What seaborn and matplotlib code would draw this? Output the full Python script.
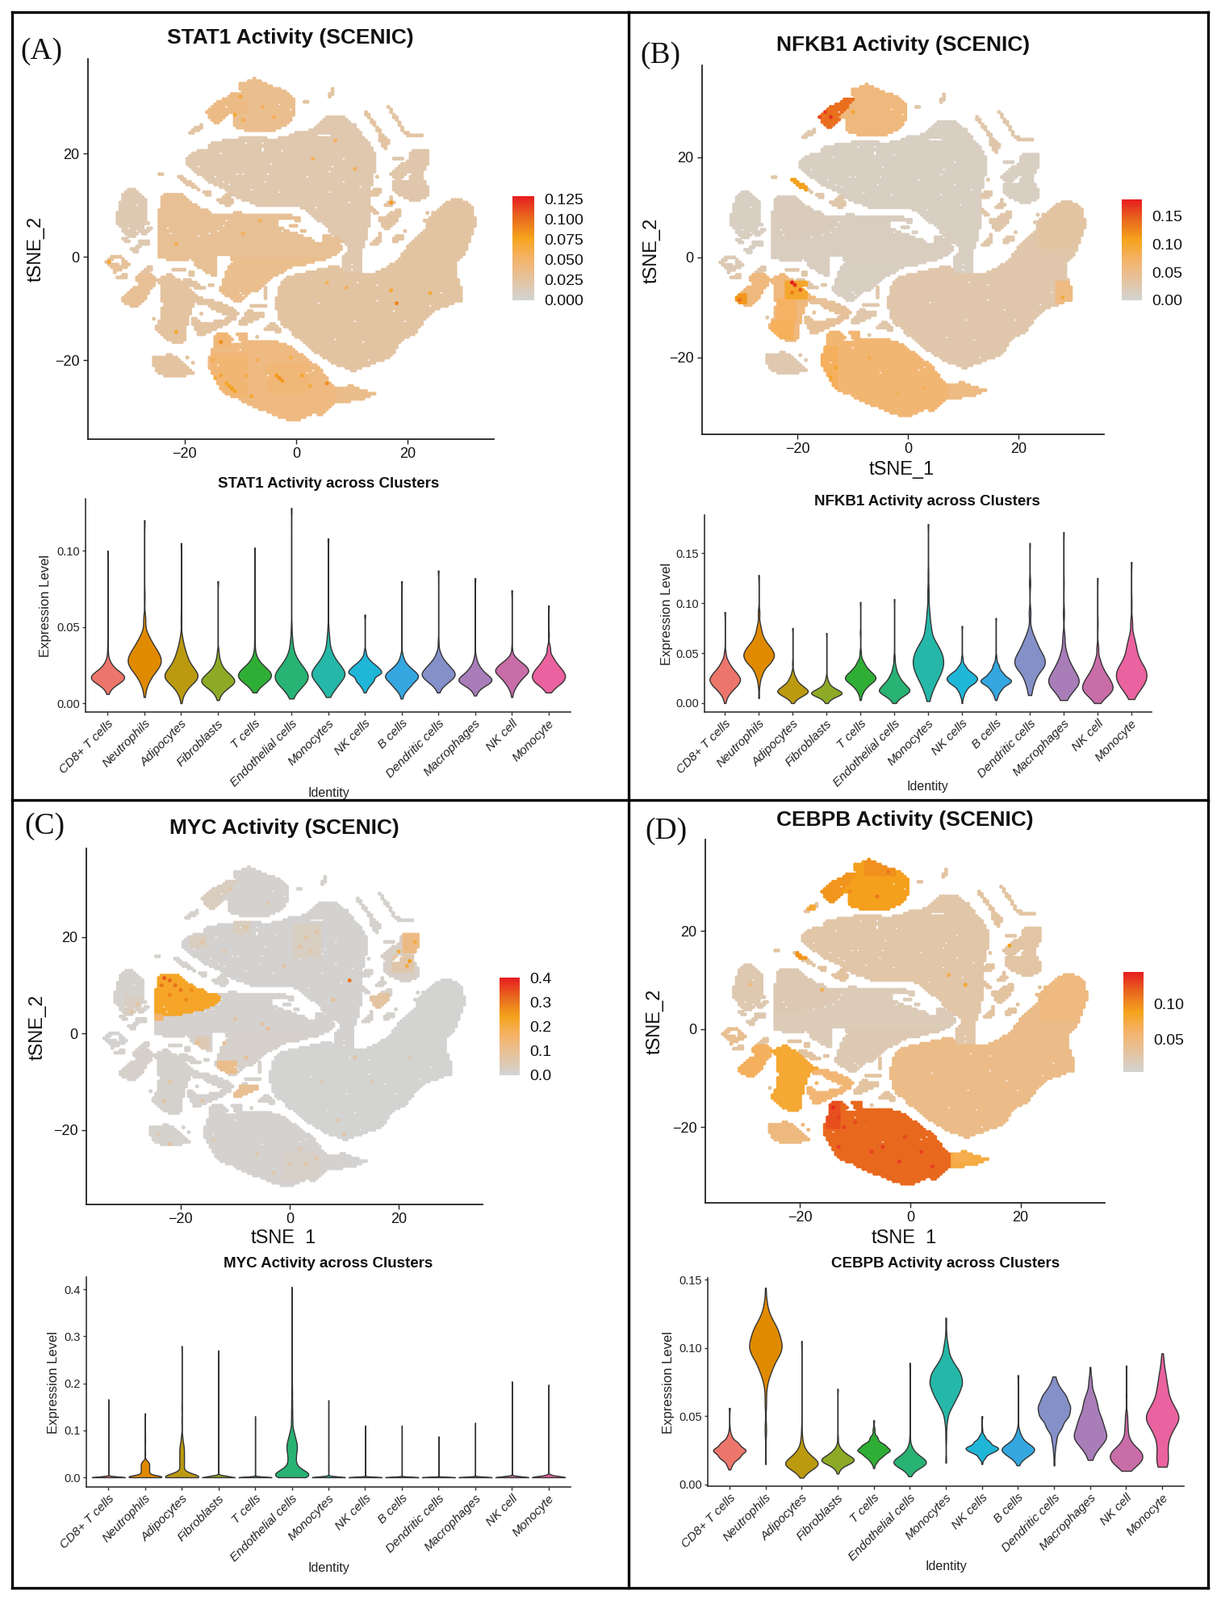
import matplotlib
matplotlib.use("Agg")
import matplotlib.pyplot as plt
import numpy as np
import pandas as pd
import seaborn as sns
from matplotlib.cm import ScalarMappable
from matplotlib.colors import LinearSegmentedColormap, Normalize
from matplotlib.patches import Rectangle

FIG_W, FIG_H = 1513, 1982

IDENTITIES = ["CD8+ T cells", "Neutrophils", "Adipocytes", "Fibroblasts", "T cells",
              "Endothelial cells", "Monocytes", "NK cells", "B cells", "Dendritic cells",
              "Macrophages", "NK cell", "Monocyte"]
VIOLIN_COLORS = ["#ED766C", "#E08A00", "#BB9A10", "#8CAA25", "#2FAE36", "#28B273", "#25B7A7",
                 "#1FB6D8", "#34A7E0", "#8490C8", "#A87DB8", "#C86DA8", "#EA629F"]

# t-SNE map in half units: row (tSNE_2) -> spans of tSNE_1 per island
TSNE_ROWS = {
    34.5: "P -7.5 -7.5",
    34: "P -8.5 -6.5",
    33.5: "P -10 -5.5",
    33: "P -10 -4.5",
    32.5: "P -10 -3; X 6.5 6.5",
    32: "P -9.5 -2; X 6.5 6.5",
    31.5: "p -11.5 -10; P -9.5 -1.5; X 6 6.5",
    31: "p -12 -10.5; P -10 -1; X 6 6",
    30.5: "p -13 -11; P -10.5 -0.5",
    30: "p -14 -11; P -10.5 -0.5; X 1.5 2",
    29.5: "p -14.5 -11.5; P -11 -0.5",
    29: "p -15 -12; P -11.5 -0.5; X 16.5 16.5",
    28.5: "p -15.5 -12.5; P -12 -0.5; X 17 17",
    28: "p -16 -13; P -12.5 -0.5; X 12.5 12.5; X 17 17",
    27.5: "p -15.5 -12.5; P -11 -0.5; X 12.5 13; X 17.5 17.5",
    27: "p -15.5 -13; P -11 -1; U 5.5 8.5; X 13 13; X 17.5 18",
    26.5: "p -15 -13.5; P -11 -1; U 5 9; X 13.5 13.5; X 18 18",
    26: "p -14.5 -14; P -11 -1.5; U 4.5 9.5; X 13.5 14; X 18.5 18.5",
    25.5: "P -11 -2; U 4 10.5; X 14 14; X 18.5 18.5; X -17 -17",
    25: "P -10.5 -3; U 3.5 10.5; X 14.5 14.5; X 19 19; X -18 -17",
    24.5: "P -9 -4; U 2.5 11; X 14.5 15; X 19 19; X -18.5 -17.5",
    24: "U 0 11.5; X 15 15; X 19.5 20; X -19 -18.5",
    23.5: "U -1 3.5; U 6.5 11.5; X 15 15.5; X 20 22.5",
    23: "U -10 -5.5; U -3 12; X 15 16",
    22.5: "U -13 12.5; X 15 16.5",
    22: "U -15 13; X 15.5 16.5",
    21.5: "U -15.5 13; X 15.5 16",
    21: "U -15.5 13.5; X 16 16",
    20.5: "U -17.5 13.5; T 21 23.5",
    20: "U -18.5 14; T 20.5 23.5",
    19.5: "U -19 14; T 20.5 23.5",
    19: "U -19.5 14; T 17.5 19; T 20.5 23.5",
    18.5: "U -19.5 14; T 20 23.5",
    18: "U -19.5 14; T 19 23.5",
    17.5: "U -19 14; T 18.5 23",
    17: "U -18.5 14; T 18 23",
    16.5: "U -18 14; T 17.5 20.5; T 21 22.5",
    16: "U -17.5 13.5; T 17 20; T 21 22.5; X -24.5 -24",
    15.5: "U -16.5 13.5; T 17.5 19; T 20.5 22.5; X -21 -20.5; X 14.5 14.5",
    15: "U -16 13.5; T 18 18.5; T 20.5 22.5; X -20.5 -20",
    14.5: "U -15.5 13.5; T 17.5 23; X -20 -19",
    14: "U -14.5 13.5; T 17.5 23; X -19.5 -18.5",
    13.5: "U -13.5 13; T 17.5 23.5; X -18.5 -18",
    13: "U -12.5 13; L -30 -29; T 17.5 23.5; X -17.5 -17.5; X 14 15",
    12.5: "U -12 13; L -30.5 -28.5; T 18 23.5; X -16.5 -15.5; X 13.5 15",
    12: "U -11.5 13; L -31 -28; m -23.5 -20.5; T 18.5 23.5; X -16 -15.5; X -12.5 -12; X 13.5 14.5",
    11.5: "U -10.5 13; L -31 -27.5; m -24 -20; T 19.5 23; X -13 -12; X 17 17",
    11: "U -9.5 13; L -31 -27; m -24 -19.5; T 20.5 22; X -14 -11.5; X 17 17; R 28 29.5",
    10.5: "U -8 13; L -31.5 -27; m -24 -19; X -13.5 -11.5; X 16.5 17.5; R 27 30.5",
    10: "U -7 13; L -31.5 -27; m -24 -18; X -12.5 -12; X 16 17; R 26.5 31",
    9.5: "U 1 13; L -31.5 -27; m -24 -17.5; X 13.5 13.5; R 26 31.5",
    9: "U 2 13; L -31.5 -27; m -24.5 -16; X 13.5 14; X 18 18.5; R 25.5 31.5",
    8.5: "U 2.5 13; L -32 -27; m -24.5 -15.5; M -11 -10; X 14 14.5; X 17 18.5; R 24.5 31.5; X 23.5 23.5",
    8: "U 3 13; L -32 -27; m -24.5 -13.5; M -13 -1; X 16.5 18.5; R 24.5 31.5",
    7.5: "U 3.5 13; L -32 -27; m -24.5 -13; M -12.5 0.5; X 15 18; R 24 32",
    7: "U 4 13; L -32 -27; m -24.5 -12.5; M -12 -3.5; M 0 0.5; X 15 18; R 23 32",
    6.5: "U 5 13; L -32 -26.5; m -24.5 -13.5; M -13 -3.5; X 15.5 17.5; R 23.5 32",
    6: "U 5.5 13; L -31.5 -27.5; m -24.5 -14; M -13.5 -3.5; M -1 0; X 15.5 17; R 23.5 32",
    5.5: "U 6 12.5; L -31 -27.5; L -26.5 -26; m -24.5 -15; M -14.5 -2.5; X 16 16.5; R 23.5 31.5",
    5: "U 6 12.5; L -31 -29; L -28 -26.5; m -24.5 -16; M -15.5 -1.5; M 1 1.5; X 19.5 19.5; R 23 31.5",
    4.5: "U 6.5 12.5; L -30.5 -28.5; L -27.5 -27; m -24.5 -18; M -17.5 0; X 15 15; R 22.5 31.5",
    4: "U 7 12.5; L -30 -29; m -24.5 -20; M -19.5 1; M 5 6; X 15 15; X 18 19; R 22 31",
    3.5: "U 8 12.5; L -31 -30.5; M -24.5 2.5; M 5 7.5; X 14.5 15; X 17.5 19; R 21.5 31",
    3: "U 8.5 12; L -30.5 -30; L -28 -26.5; M -24.5 3; M 5 8; X 14 15; X 17.5 18; R 21 31",
    2.5: "U 9 12; L -28 -26.5; M -24.5 7.5; X 13.5 14.5; R 20.5 30.5",
    2: "U 9.5 12; L -28.5 -28; M -24.5 8; R 20 30.5",
    1.5: "U 9.5 11.5; L -29.5 -28.5; M -24.5 8; R 20 30.5",
    1: "U 9.5 11.5; L -29 -28.5; M -24.5 7.5; R 19.5 30",
    0.5: "U 9 11.5; M -24.5 7; R 19 30",
    0: "W -33 -31.5; U 8.5 11.5; M -24.5 -14.5; M -11.5 6; R 19 29.5",
    -0.5: "W -33.5 -33; W -31 -31; M -23 -19.5; M -18.5 -14.5; G -11.5 5; U 8.5 11.5; R 18.5 29",
    -1: "W -34 -33.5; W -31 -30.5; M -18 -14.5; G -11 3; U 8.5 11.5; R 18 28.5",
    -1.5: "W -33.5 -32; W -31 -30; M -18 -14.5; G -11.5 1.5; U 8.5 11.5; R 17 28.5",
    -2: "W -33 -30.5; X -26.5 -26; M -17.5 -14.5; G -12 -1; R 6 7.5; U 8.5 11.5; R 16.5 28.5",
    -2.5: "W -32.5 -31.5; X -27 -26; X -22 -20; M -16.5 -14.5; G -12 -2; R 4 8; U 8.5 11.5; R 15.5 28.5",
    -3: "W -32.5 -32.5; X -27.5 -26.5; X -19 -18.5; M -16 -14.5; G -12.5 -2.5; R 2 8; U 8.5 11.5; R 14.5 28.5",
    -3.5: "X -31 -30.5; V -28 -26; H -23 -22.5; X -19 -18.5; M -15 -14.5; G -12.5 -3.5; R 0 28.5",
    -4: "X -32 -30.5; V -28.5 -25.5; H -24 -22; G -12.5 -4.5; R -1.5 28.5",
    -4.5: "V -28.5 -25.5; H -25 -21; X -20 -19; G -13 -5; R -2 29",
    -5: "V -28 -25.5; H -24.5 -20.5; X -20 -18; G -13 -5.5; R -2.5 29",
    -5.5: "V -28 -25.5; H -24 -20; X -19.5 -17.5; X -15.5 -15; G -13 -6; R -2.5 29",
    -6: "V -29 -26; H -24 -19.5; X -18 -16.5; G -13.5 -6.5; X -5.5 -5.5; R -3 29.5",
    -6.5: "V -29.5 -26.5; H -24 -19; G -13.5 -7; X -5.5 -5.5; R -3 29.5",
    -7: "V -30 -26.5; H -24 -18.5; G -13 -8.5; X -5.5 -5.5; R -3 29.5",
    -7.5: "V -30.5 -27; H -24 -18; G -12.5 -9; X -5.5 -5.5; R -3 29.5",
    -8: "V -31 -27; H -24 -17; G -11.5 -9.5; X -5.5 -5.5; R -3.5 29.5",
    -8.5: "V -31 -27.5; H -24 -18; J -17.5 -15; G -11 -10; R -3.5 29.5",
    -9: "V -30.5 -28; H -23.5 -18.5; J -17.5 -13.5; R -3.5 28",
    -9.5: "V -29.5 -28.5; H -23.5 -18.5; J -15.5 -12.5; X -8 -5.5; R -3.5 27",
    -10: "H -24 -19; J -15 -11.5; R -3.5 25.5",
    -10.5: "H -24 -19; J -14 -11; X -8.5 -8; R -3 24.5",
    -11: "H -24 -19; J -17 -17; J -13 -10.5; X -9 -6; R -3 24",
    -11.5: "H -24 -19.5; J -12 -11; X -9 -6; R -3 23.5",
    -12: "X -25.5 -25.5; H -24 -19.5; J -18.5 -18; J -12.5 -11; X -9.5 -7; R -3 23",
    -12.5: "H -24.5 -19.5; J -18.5 -17.5; J -14.5 -12; X -10 -8; R -2.5 22.5",
    -13: "H -24.5 -19.5; J -18.5 -12.5; X -10 -9; X -4.5 -4; R -2.5 22.5",
    -13.5: "H -25 -20; J -18 -13.5; X -5 -3.5; R -2 22",
    -14: "H -25 -20; J -18 -14.5; X -5.5 -3; R -1 21.5",
    -14.5: "H -24.5 -20; J -17.5 -15.5; X -3.5 -3; R -0.5 21.5",
    -15: "H -24 -20; J -17.5 -16.5; S -14 -12.5; S -10.5 -9; R -0.5 21",
    -15.5: "H -23.5 -20; S -14.5 -12; S -10 -9; X -7 -7; R 0 20",
    -16: "H -23 -20; S -14.5 -11.5; S -10 -9; R 1 19",
    -16.5: "H -22 -20.5; S -14.5 -12; S -9.5 -3.5; R 1.5 18.5",
    -17: "S -14.5 -2; R 2 18",
    -17.5: "S -14.5 -1; R 2.5 18",
    -18: "S -15 -0.5; R 3 17.5",
    -18.5: "S -15 0; R 3.5 17.5",
    -19: "Q -23 -22.5; S -15 1; R 4.5 17",
    -19.5: "Q -25.5 -21.5; Q -19.5 -19.5; S -15.5 1.5; R 5 16.5",
    -20: "Q -25.5 -21; S -15.5 2; R 6 15.5",
    -20.5: "Q -25.5 -20.5; Q -18.5 -18.5; S -15.5 2.5; R 6.5 14",
    -21: "Q -25.5 -20; S -15.5 3.5; R 7.5 13",
    -21.5: "Q -25 -19.5; S -15.5 4; R 9 11.5",
    -22: "Q -25 -19; S -15 4.5; R 10 10.5",
    -22.5: "Q -24.5 -18.5; S -15 4.5",
    -23: "Q -23.5 -20; S -14.5 5",
    -23.5: "S -14.5 5.5",
    -24: "S -14 5.5",
    -24.5: "S -14 6",
    -25: "S -13.5 6.5; s 9.5 10",
    -25.5: "S -13.5 7; s 7.5 11",
    -26: "S -13 7; s 7.5 12.5",
    -26.5: "S -12.5 7; s 7.5 14",
    -27: "S -11.5 7; s 7.5 13",
    -27.5: "S -10 7; s 7.5 12",
    -28: "S -9.5 7; s 7.5 9.5",
    -28.5: "S -8.5 6.5",
    -29: "S -7.5 6",
    -29.5: "S -6.5 5.5",
    -30: "S -5 5",
    -30.5: "S -4 2.5; S 4 4.5",
    -31: "S -3 1.5",
    -31.5: "S -1.5 0.5",
}

# white specks inside the islands: x, y
TSNE_GAPS = [(-9, 22), (-6, 22), (-6, 21), (-6, 20.5), (-14.5, 15.5), (-13, 14.5), (-12, 14), (-9.5, 16), (-10.5, 16),
             (-5, 16), (-8, 13), (-13.5, 20), (-2.5, 20.5), (-4.5, 18), (-17.5, 17.5), (-3, 12.5), (-5.5, 14.5),
             (-13, 6), (-14, 5), (-15.5, 4.5), (-23, 5.5), (-22.5, 4.5), (-17.5, 4), (-2.5, 5), (-2, 6.5), (-12.5, 7),
             (2, 15.5), (6, 16.5), (6.5, 17.5), (8.5, 14.5), (9.5, 10.5), (3.5, 9.5), (6, 12.5), (11.5, 13.5), (8.5, 19),
             (-28.5, 10), (-30, 5.5), (20, 16), (-12.5, 29), (-3, 29.5), (-1, 28.5), (4, -9), (10.5, -12.5), (14.5, -8.5),
             (19.5, -12.5), (7, -16), (12, -16.5), (13, -20), (26, -7), (17.5, -10.5), (24, -9.5), (11, -5), (14.5, -5.5),
             (-14, -21), (-5, -23), (-10, -18), (2, -22.5), (3, -22), (10, -1.5), (10, -2.5), (-10, -7), (-9.5, -7.5)]

# activity level per island
STAT1_LEVELS = {"P": .034, "p": .038, "U": .018, "L": .016, "M": .03, "m": .03, "G": .034, "R": .024, "S": .04,
                "s": .035, "Q": .025, "V": .03, "W": .028, "H": .025, "J": .024, "T": .02, "X": .024}
NFKB1_LEVELS = {"P": .06, "p": .14, "U": .012, "L": .012, "M": .013, "m": .016, "G": .012, "R": .028, "S": .066,
                "s": .055, "Q": .025, "V": .06, "W": .02, "H": .06, "J": .04, "T": .012, "X": .028}
MYC_LEVELS = {"P": .008, "p": .03, "U": .006, "L": .012, "M": .008, "m": .23, "G": .015, "R": .003, "S": .008,
              "s": .004, "Q": .01, "V": .015, "W": .004, "H": .012, "J": .008, "T": .02, "X": .012}
CEBPB_LEVELS = {"P": .09, "p": .095, "U": .028, "L": .024, "M": .02, "m": .022, "G": .022, "R": .045, "S": .116,
                "s": .075, "Q": .05, "V": .065, "W": .04, "H": .08, "J": .055, "T": .03, "X": .032}

# warmer patches: x0, x1, y0, y1, level
STAT1_PATCHES = [(-15, -9, -27, -19, .046), (-5, 2, -26, -21, .045), (-14, -12, -17, -15, .046), (-14, -9, 28, 30, .038)]
NFKB1_PATCHES = [(-15.5, -13, -27, -18, .078), (-24.5, -21, -16, -13, .08), (-23.5, -20.5, -12.5, -8.5, .074),
                 (-22, -18.5, -8, -5, .1), (-31, -29.5, -9, -7.5, .115), (27, 29.5, -9, -5, .055), (24, 32, 2, 11, .034),
                 (-21, -18.5, 13.5, 15.5, .11)]
MYC_PATCHES = [(1, 5.5, 16, 22.5, .028), (21, 23.5, 17, 20.5, .12), (19, 22.5, 13, 16, .06), (-10, -6, -13, -11, .1),
               (-13, -10, -8, -6, .11), (-1, 5, -30, -25, .018), (-30, -27.5, 3.5, 7.5, .025), (-17, -15, -3, -1, .05),
               (15, 18, 5.5, 8, .08), (-10, -7.5, 21, 23, .03), (-18, -15.5, 18, 20, .03), (-24.5, -23.5, 3, 4, .16)]
CEBPB_PATCHES = [(-15, -13, -20, -15, .125), (-20.5, -19, 14.5, 15.5, .095), (-18.5, -17.5, 24.5, 25, .08), (8, 10.5, -27, -25.5, .07),
                 (24, 32, 2, 11, .049), (-8, -3, 31.5, 34.5, .097)]

# single bright cells: x, y, level
STAT1_SPECKS = [(-3, -23.5, .085), (-3.5, -23, .08), (-2.5, -24, .08), (-11.5, -25.5, .078), (-12, -25, .075), (-11, -26, .075),
                (-13.5, -16.5, .085), (-13.5, -23, .07), (-14.5, -23.5, .065), (-8, -27, .07), (-12.5, -24.5, .07), (-21.5, -14.5, .07),
                (-33.5, -1, .07), (5.5, -24.5, .085), (1, -23, .07), (2.5, -25, .065), (17, -6.5, .07), (18, -9, .09), (24, -7, .065),
                (5.5, -5, .055), (9, -6, .055), (-11, 27.5, .07), (-10, 31, .065), (-9.5, 26.5, .06), (3, 19, .055), (10.5, 17, .055),
                (7, 22.5, .055), (17, 10.5, .08), (-6.5, 7, .055), (-9.5, 4.5, .055), (-21.5, 2.5, .06), (-6, 29, .055), (-4, 27, .055),
                (-7, -20, .06), (-1, -19.5, .06), (-15, -20, .06), (-9, -23, .06)]
NFKB1_SPECKS = [(-21, -5, .18), (-20.5, -5.5, .17), (-19.5, -6.5, .15), (-15, 29, .165), (-16, 28, .16), (-14, 28, .17),
                (-25, -3.5, .13), (28, -8, .09), (-13, -22, .1), (-14, -24, .1), (-10, 29, .1), (-30.5, -8.5, .14), (-21, -7, .13),
                (-25, -3, .13), (-2, -27, .08), (3, -26, .08), (-7, -20, .085)]
MYC_SPECKS = [(-23, 11.5, .34), (-22, 11, .32), (-20, 9, .3), (-21, 10, .31), (11, 11, .3), (-22, 8, .28), (22, 15, .25),
              (20, 17, .2), (23, 19, .2), (-19, 7, .28), (-4, 1, .1), (4, -1, .15), (3, -27, .08), (12, -5, .08),
              (-1, 14, .08), (8, 7, .1), (-23.5, 10, .3), (-18, 9, .27), (21.5, 14, .2), (-5, 2, .08), (-17, -2, .12),
              (-10, 3, .08), (-12, -2, .1), (-8, -5, .1), (3, -20, .07), (0, -27, .06), (9, -18, .06), (-25, -12, .07),
              (3, 20, .08), (2, 18, .08), (4, 17, .08), (5, 21, .07), (-8, 22, .08), (-16, 19, .08), (-12, 17, .06), (-14, -22, .05),
              (-6, -25, .06), (2, -24, .06), (5, -26, .07), (-3, -29, .06), (-28, 6, .08), (-29, 4.5, .08), (-22, -10, .07),
              (-23, -14, .08), (-16, -14, .07), (-24, -21, .06), (-22, -23, .07), (-9, -9, .0), (10, -21, .08), (15, -10, .05),
              (6, -10, .05), (22, -5, .05), (-11, 30, .07), (-4, 27, .05)]
CEBPB_SPECKS = [(-14, -16, .14), (-13, -18, .13), (-12, -20, .13), (-5, -24, .132), (-2, -27, .132), (-8, -20, .1),
                (4, -28, .13), (18, 17, .09), (10, 9, .08), (-16, 8, .07), (7, 11, .07), (-29, 9, .05), (-13, -24, .13),
                (-10, -19, .128), (-1, -22, .128), (-7, -25, .13), (2, -25, .13), (-6, 27, .11), (-11, 28, .1), (-4, 32, .11)]

# violin outlines: (level, relative width) per cluster
STAT1_VIOLINS = [
    [(.006, 1), (.01, 5), (.014, 22), (.017, 30), (.02, 20), (.024, 9), (.028, 3), (.035, 1), (.1, 1)],
    [(.004, 1), (.01, 3), (.015, 8), (.02, 16), (.025, 28), (.03, 28), (.035, 20), (.04, 12), (.045, 6), (.055, 3), (.07, 1), (.12, 1)],
    [(0, 1), (.006, 3), (.01, 10), (.015, 24), (.019, 28), (.024, 20), (.03, 13), (.036, 7), (.042, 3), (.055, 1), (.105, 1)],
    [(.002, 1), (.006, 4), (.01, 14), (.014, 30), (.018, 20), (.022, 10), (.027, 5), (.033, 2), (.08, 1)],
    [(.007, 1), (.01, 4), (.014, 18), (.018, 30), (.022, 20), (.026, 9), (.031, 3), (.04, 1), (.102, 1)],
    [(.003, 1), (.007, 4), (.011, 14), (.016, 30), (.021, 22), (.026, 13), (.032, 6), (.04, 3), (.05, 1), (.128, 1)],
    [(.004, 1), (.008, 5), (.012, 15), (.018, 30), (.023, 20), (.028, 12), (.034, 6), (.042, 3), (.05, 1), (.108, 1)],
    [(.007, 1), (.011, 6), (.015, 16), (.02, 30), (.024, 20), (.028, 8), (.033, 2), (.058, 1)],
    [(.003, 1), (.008, 5), (.012, 16), (.017, 30), (.021, 18), (.025, 8), (.03, 3), (.08, 1)],
    [(.007, 1), (.011, 6), (.015, 20), (.019, 30), (.023, 20), (.027, 12), (.032, 5), (.04, 1), (.087, 1)],
    [(.005, 1), (.009, 6), (.013, 22), (.016, 30), (.02, 16), (.024, 8), (.029, 3), (.082, 1)],
    [(.004, 1), (.009, 4), (.013, 10), (.017, 18), (.021, 30), (.025, 22), (.029, 8), (.035, 1), (.074, 1)],
    [(.007, 2), (.01, 10), (.014, 26), (.018, 30), (.022, 24), (.026, 14), (.03, 8), (.036, 4), (.045, 1), (.064, 1)],
]
NFKB1_VIOLINS = [
    [(0, 1), (.006, 4), (.012, 12), (.018, 24), (.024, 30), (.03, 22), (.036, 12), (.042, 6), (.05, 2), (.091, 1)],
    [(.005, 1), (.02, 2), (.03, 8), (.04, 22), (.048, 30), (.056, 22), (.065, 10), (.075, 5), (.09, 2), (.128, 1)],
    [(0, 2), (.005, 8), (.009, 22), (.013, 30), (.018, 18), (.024, 9), (.03, 3), (.04, 1), (.075, 1)],
    [(0, 2), (.004, 8), (.008, 24), (.011, 30), (.015, 16), (.02, 6), (.025, 2), (.07, 1)],
    [(.003, 1), (.01, 4), (.016, 12), (.022, 26), (.027, 30), (.033, 18), (.04, 9), (.05, 2), (.07, 1), (.101, 1)],
    [(0, 2), (.005, 8), (.01, 24), (.014, 30), (.02, 22), (.027, 12), (.035, 5), (.045, 2), (.104, 1)],
    [(.002, 1), (.01, 6), (.02, 14), (.03, 24), (.04, 30), (.05, 26), (.06, 16), (.075, 8), (.09, 4), (.11, 2), (.13, 1), (.179, 1)],
    [(0, 1), (.008, 4), (.014, 10), (.02, 24), (.025, 30), (.03, 20), (.036, 9), (.044, 2), (.077, 1)],
    [(.003, 1), (.008, 5), (.014, 14), (.02, 28), (.024, 30), (.03, 18), (.037, 9), (.045, 2), (.085, 1)],
    [(.008, 3), (.016, 6), (.025, 14), (.035, 28), (.042, 30), (.05, 27), (.06, 18), (.07, 7), (.09, 3), (.12, 2), (.16, 1)],
    [(.003, 4), (.01, 14), (.018, 28), (.024, 30), (.032, 22), (.04, 14), (.05, 8), (.065, 4), (.09, 2), (.12, 1), (.171, 1)],
    [(0, 4), (.006, 14), (.012, 28), (.018, 30), (.025, 26), (.033, 16), (.042, 8), (.055, 3), (.08, 1), (.125, 1)],
    [(.004, 4), (.012, 14), (.02, 26), (.028, 30), (.036, 26), (.045, 16), (.055, 12), (.065, 7), (.08, 3), (.1, 1), (.141, 1)],
]
MYC_VIOLINS = [
    [(0, 300), (.166, 1)],
    [(0, 60), (.003, 30), (.006, 12), (.01, 12), (.014, 12), (.018, 12), (.022, 12), (.026, 12), (.03, 12), (.034, 8), (.038, 2), (.05, 1), (.08, 1), (.136, 1)],
    [(0, 60), (.003, 30), (.008, 8), (.02, 8), (.03, 8), (.04, 8), (.05, 8), (.06, 8), (.07, 6), (.08, 3), (.09, 2), (.12, 1), (.15, 1), (.279, 1)],
    [(0, 300), (.003, 10), (.27, 1)],
    [(0, 300), (.13, 1)],
    [(0, 40), (.005, 60), (.012, 40), (.02, 20), (.03, 15), (.04, 15), (.05, 16), (.06, 20), (.07, 20), (.08, 15), (.09, 10), (.1, 7),
     (.12, 5), (.14, 4), (.16, 3), (.18, 3), (.2, 2), (.23, 2), (.26, 1), (.405, 1)],
    [(0, 300), (.003, 8), (.02, 1), (.05, 1), (.164, 1)],
    [(0, 300), (.11, 1)],
    [(0, 300), (.11, 1)],
    [(0, 300), (.002, 5), (.087, 1)],
    [(0, 300), (.002, 5), (.116, 1)],
    [(0, 300), (.204, 1)],
    [(0, 200), (.004, 16), (.01, 2), (.03, 1), (.07, 1), (.197, 1)],
]
CEBPB_VIOLINS = [
    [(.011, 1), (.015, 5), (.02, 18), (.025, 30), (.03, 16), (.035, 4), (.04, 1), (.056, 1)],
    [(.015, 1), (.04, 2), (.06, 2), (.075, 4), (.085, 14), (.095, 26), (.103, 30), (.112, 24), (.12, 12), (.13, 4), (.144, 1)],
    [(.005, 1), (.009, 6), (.013, 24), (.016, 30), (.02, 18), (.025, 9), (.032, 3), (.04, 1), (.105, 1)],
    [(.008, 1), (.012, 5), (.016, 24), (.019, 30), (.023, 14), (.027, 4), (.034, 1), (.07, 1)],
    [(.012, 1), (.017, 6), (.021, 16), (.025, 30), (.029, 20), (.034, 8), (.04, 2), (.047, 1)],
    [(.006, 1), (.01, 6), (.014, 22), (.017, 30), (.021, 16), (.026, 6), (.033, 1), (.089, 1)],
    [(.016, 1), (.035, 1), (.048, 3), (.058, 12), (.066, 22), (.074, 30), (.082, 26), (.09, 12), (.1, 5), (.11, 1), (.122, 1)],
    [(.015, 1), (.02, 7), (.024, 20), (.027, 30), (.031, 16), (.035, 6), (.04, 1), (.05, 1)],
    [(.014, 1), (.018, 6), (.022, 20), (.026, 30), (.03, 16), (.035, 7), (.04, 2), (.08, 1)],
    [(.014, 1), (.025, 2), (.033, 5), (.042, 16), (.05, 28), (.057, 30), (.064, 22), (.07, 10), (.076, 3), (.079, 1)],
    [(.018, 3), (.024, 8), (.03, 20), (.036, 30), (.043, 24), (.05, 20), (.058, 14), (.065, 9), (.075, 4), (.086, 1)],
    [(.01, 4), (.014, 14), (.018, 26), (.023, 30), (.028, 14), (.034, 6), (.042, 4), (.05, 3), (.065, 1), (.087, 1)],
    [(.013, 8), (.018, 10), (.024, 7), (.03, 9), (.038, 18), (.046, 30), (.052, 30), (.06, 20), (.07, 14), (.08, 9), (.09, 3), (.096, 1)],
]

sns.set_theme(style="ticks")
plt.rcParams["font.family"] = ["Liberation Sans", "DejaVu Sans"]

scenic = LinearSegmentedColormap.from_list(
    "scenic", [(0, "#D3D3D3"), (.4, "#F5B36A"), (.6, "#F5A31C"), (.8, "#E8681E"), (1, "#E71C20")])

fig = plt.figure(figsize=(FIG_W / 100, FIG_H / 100), dpi=100, facecolor="white")


def px_axes(left, top, right, bottom):
    return fig.add_axes([left / FIG_W, 1 - bottom / FIG_H, (right - left) / FIG_W, (bottom - top) / FIG_H])


def px_text(x, y, s, **kw):
    kw.setdefault("ha", "center")
    kw.setdefault("va", "center")
    kw.setdefault("color", "#111111")
    return fig.text(x / FIG_W, 1 - y / FIG_H, s, **kw)


def tsne_cells(levels, patches, specks):
    rows = []
    for y, spec in TSNE_ROWS.items():
        for part in spec.split(";"):
            code, x0, x1 = part.split()
            for x in np.arange(float(x0), float(x1) + .25, .5):
                rows.append({"tSNE_1": x, "tSNE_2": y, "activity": levels[code]})
    cells = pd.DataFrame(rows)
    for x0, x1, y0, y1, level in patches:
        inside = cells["tSNE_1"].between(x0, x1) & cells["tSNE_2"].between(y0, y1)
        cells.loc[inside, "activity"] = level
    for x, y, level in specks:
        cells.loc[(cells["tSNE_1"] == x) & (cells["tSNE_2"] == y), "activity"] = level
    for x, y in TSNE_GAPS:
        cells = cells[~((cells["tSNE_1"] == x) & (cells["tSNE_2"] == y))]
    return cells.sort_values("activity")


def draw_tsne(box, xlim, ylim, levels, patches, specks, vrange):
    ax = px_axes(*box)
    sns.scatterplot(data=tsne_cells(levels, patches, specks), x="tSNE_1", y="tSNE_2", hue="activity",
                    palette=scenic, hue_norm=vrange, s=13, linewidth=0, legend=False, ax=ax)
    ax.set_xlim(*xlim)
    ax.set_ylim(*ylim)
    ax.set_xticks([-20, 0, 20])
    ax.set_yticks([-20, 0, 20])
    ax.set_xlabel("")
    ax.set_ylabel("")
    ax.tick_params(labelsize=13, length=4, width=1, color="#222222", labelcolor="#111111")
    sns.despine(ax=ax)
    for side in ("left", "bottom"):
        ax.spines[side].set_linewidth(1.3)
        ax.spines[side].set_color("#222222")
    return ax


def draw_colorbar(box, vrange, ticks, labels):
    cax = px_axes(*box)
    bar = fig.colorbar(ScalarMappable(Normalize(*vrange), scenic), cax=cax)
    bar.outline.set_visible(False)
    bar.set_ticks(ticks, labels=labels)
    cax.tick_params(axis="y", direction="in", length=5, width=.6, color="white", left=True, right=True,
                    labelsize=14, pad=9, labelcolor="#111111")


def draw_violins(box, ylim, yticks, ylabels, knots, bw):
    ax = px_axes(*box)
    frames = []
    for name, pairs in zip(IDENTITIES, knots):
        values = np.repeat([p[0] for p in pairs], [p[1] for p in pairs])
        frames.append(pd.DataFrame({"identity": name, "level": values}))
    sns.violinplot(data=pd.concat(frames), x="identity", y="level", hue="identity", order=IDENTITIES,
                   hue_order=IDENTITIES, palette=VIOLIN_COLORS, inner=None, cut=0, density_norm="width",
                   width=.9, linewidth=1, linecolor="#333333", saturation=1, bw_adjust=bw, legend=False, ax=ax)
    ax.set_xlim(-.6, 12.6)
    ax.set_ylim(*ylim)
    ax.set_yticks(yticks, labels=ylabels)
    ax.set_xlabel("")
    ax.set_ylabel("")
    ax.tick_params(axis="y", labelsize=10.5, length=3, width=1, color="#333333", labelcolor="#222222", pad=2)
    ax.tick_params(axis="x", length=3, width=1, color="#333333", pad=2)
    plt.setp(ax.get_xticklabels(), rotation=45, ha="right", rotation_mode="anchor", style="italic",
             fontsize=11, color="#222222")
    sns.despine(ax=ax)
    for side in ("left", "bottom"):
        ax.spines[side].set_linewidth(1.2)
        ax.spines[side].set_color("#333333")
    return ax


TSNE_LABEL = dict(fontsize=17, rotation=90)
VIOLIN_TITLE = dict(fontsize=13.5, fontweight="bold")
VIOLIN_YLABEL = dict(fontsize=12, rotation=90, color="#222222")
IDENTITY_LABEL = dict(fontsize=11.5, color="#222222")
PANEL_TAG = dict(fontsize=27, family=["Liberation Serif", "DejaVu Serif"])

# (A) STAT1
draw_tsne((109, 73, 612, 544), (-37.3, 35.4), (-35.3, 38.3), STAT1_LEVELS, STAT1_PATCHES, STAT1_SPECKS, (0, .128))
draw_colorbar((635, 243, 662, 372), (0, .128), [0, .025, .05, .075, .1, .125],
              ["0.000", "0.025", "0.050", "0.075", "0.100", "0.125"])
draw_violins((106, 618, 707, 882), (-.0058, .134), [0, .05, .1], ["0.00", "0.05", "0.10"], STAT1_VIOLINS, .8)
px_text(360, 47, "STAT1 Activity (SCENIC)", fontsize=19, fontweight="bold")
px_text(51, 64, "(A)", **PANEL_TAG)
px_text(45, 308, "tSNE_2", **TSNE_LABEL)
px_text(407, 600, "STAT1 Activity across Clusters", **VIOLIN_TITLE)
px_text(57, 751, "Expression Level", **VIOLIN_YLABEL)
px_text(407, 983, "Identity", **IDENTITY_LABEL)

# (B) NFKB1
draw_tsne((870, 81, 1368, 538), (-37.3, 35.5), (-35.3, 38.3), NFKB1_LEVELS, NFKB1_PATCHES, NFKB1_SPECKS, (0, .18))
draw_colorbar((1390, 247, 1415, 372), (0, .18), [0, .05, .1, .15], ["0.00", "0.05", "0.10", "0.15"])
draw_violins((873, 638, 1427, 882), (-.0089, .188), [0, .05, .1, .15], ["0.00", "0.05", "0.10", "0.15"], NFKB1_VIOLINS, .8)
px_text(1119, 56, "NFKB1 Activity (SCENIC)", fontsize=19, fontweight="bold")
px_text(818, 69, "(B)", **PANEL_TAG)
px_text(808, 310, "tSNE_2", **TSNE_LABEL)
px_text(1117, 582, "tSNE_1", fontsize=17)
px_text(1149, 622, "NFKB1 Activity across Clusters", **VIOLIN_TITLE)
px_text(827, 760, "Expression Level", **VIOLIN_YLABEL)
px_text(1149, 975, "Identity", **IDENTITY_LABEL)

# (C) MYC
draw_tsne((107, 1051, 598, 1492), (-37.3, 35.4), (-35.5, 38.4), MYC_LEVELS, MYC_PATCHES, MYC_SPECKS, (0, .402))
draw_colorbar((619, 1211, 644, 1332), (0, .402), [0, .1, .2, .3, .4], ["0.0", "0.1", "0.2", "0.3", "0.4"])
draw_violins((107, 1582, 707, 1842), (-.0206, .4258), [0, .1, .2, .3, .4], ["0.0", "0.1", "0.2", "0.3", "0.4"], MYC_VIOLINS, .5)
px_text(352, 1026, "MYC Activity (SCENIC)", fontsize=19, fontweight="bold")
px_text(55, 1024, "(C)", **PANEL_TAG)
px_text(47, 1272, "tSNE_2", **TSNE_LABEL)
px_text(351, 1534, "tSNE_1", fontsize=17)
px_text(407, 1565, "MYC Activity across Clusters", **VIOLIN_TITLE)
px_text(66, 1712, "Expression Level", **VIOLIN_YLABEL)
px_text(407, 1942, "Identity", **IDENTITY_LABEL)

# (D) CEBPB
draw_tsne((874, 1040, 1369, 1490), (-37.2, 35.3), (-35.4, 38.6), CEBPB_LEVELS, CEBPB_PATCHES, CEBPB_SPECKS, (.005, .144))
draw_colorbar((1392, 1204, 1417, 1328), (.005, .144), [.05, .1], ["0.05", "0.10"])
draw_violins((877, 1583, 1467, 1841), (-.0012, .1512), [0, .05, .1, .15], ["0.00", "0.05", "0.10", "0.15"], CEBPB_VIOLINS, .85)
px_text(1121, 1016, "CEBPB Activity (SCENIC)", fontsize=19, fontweight="bold")
px_text(825, 1030, "(D)", **PANEL_TAG)
px_text(812, 1265, "tSNE_2", **TSNE_LABEL)
px_text(1120, 1534, "tSNE_1", fontsize=17)
px_text(1172, 1566, "CEBPB Activity across Clusters", **VIOLIN_TITLE)
px_text(829, 1712, "Expression Level", **VIOLIN_YLABEL)
px_text(1172, 1940, "Identity", **IDENTITY_LABEL)

# the lower panels crop the underscore of tSNE_1
for left, right in ((300, 400), (1070, 1170)):
    fig.add_artist(Rectangle((left / FIG_W, 1 - 1552 / FIG_H), (right - left) / FIG_W, 9 / FIG_H,
                             transform=fig.transFigure, facecolor="white", edgecolor="none", zorder=5))

# panel frame
for x0, y0, x1, y1 in ((15, 15, 1497, 15), (15, 1967, 1497, 1967), (15, 15, 15, 1967), (1497, 15, 1497, 1967),
                       (779, 15, 779, 1967), (15, 991, 1497, 991)):
    fig.add_artist(plt.Line2D([x0 / FIG_W, x1 / FIG_W], [1 - y0 / FIG_H, 1 - y1 / FIG_H], color="black",
                              linewidth=2.4, zorder=6, solid_capstyle="projecting"))

fig.savefig("out.png", dpi=100, facecolor="white")
